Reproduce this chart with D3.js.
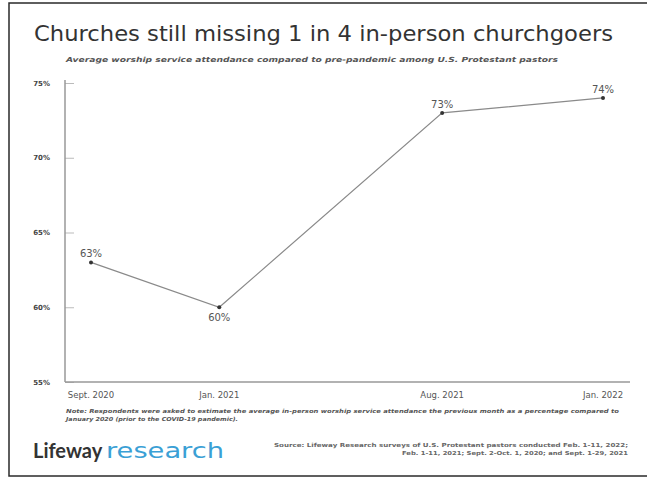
<!DOCTYPE html>
<html>
<head>
<meta charset="utf-8">
<script src="https://cdn.jsdelivr.net/npm/d3@7"></script>
<style>
  html, body { margin: 0; padding: 0; background: #fff; }
  svg { display: block; }
</style>
</head>
<body>
<div id="chart"></div>
<script>
// Survey waves and average attendance (% of pre-pandemic)
const waves = ["2020-09-01", "2021-01-01", "2021-08-01", "2022-01-01"];
const waveLabels = ["Sept. 2020", "Jan. 2021", "Aug. 2021", "Jan. 2022"];
const attendance = [63, 60, 73, 74];
const labelSide = ["above", "below", "above", "above"];
const yTicks = [55, 60, 65, 70, 75];

const W = 647, H = 480;
const svg = d3.select("#chart").append("svg")
  .attr("width", W).attr("height", H);

// outer frame
svg.append("rect")
  .attr("x", 9).attr("y", 3).attr("width", W).attr("height", 473)
  .attr("fill", "#fff").attr("stroke", "#2a2a2a").attr("stroke-width", 1.5);

const parse = d3.utcParse("%Y-%m-%d");
const dates = waves.map(parse);

const x = d3.scaleUtc()
  .domain([dates[0], dates[dates.length - 1]])
  .range([91, 603]);
const y = d3.scaleLinear().domain([55, 75]).range([382, 83]);

const font = "'DejaVu Sans', Lato, sans-serif";
const fit = "spacingAndGlyphs";

// title & subtitle
svg.append("text")
  .attr("x", 34).attr("y", 41)
  .attr("font-family", font).attr("font-size", 22)
  .attr("textLength", 579).attr("lengthAdjust", fit)
  .attr("fill", "#333")
  .text("Churches still missing 1 in 4 in-person churchgoers");

svg.append("text")
  .attr("x", 66).attr("y", 62)
  .attr("font-family", font).attr("font-size", 7)
  .attr("textLength", 492).attr("lengthAdjust", fit)
  .attr("font-style", "italic").attr("font-weight", 600)
  .attr("fill", "#555")
  .text("Average worship service attendance compared to pre-pandemic among U.S. Protestant pastors");

// y axis ticks
const yAxis = svg.append("g").attr("transform", "translate(65,0)")
  .call(d3.axisRight(y).tickValues(yTicks).tickSize(9).tickFormat(() => ""));
yAxis.select(".domain").remove();
yAxis.selectAll(".tick line").attr("stroke", "#bbb").attr("stroke-width", 1);

svg.selectAll(".ylab").data(yTicks).join("text")
  .attr("class", "ylab")
  .attr("x", 50).attr("y", d => y(d) + 2.5)
  .attr("text-anchor", "end")
  .attr("font-family", font).attr("font-size", 7).attr("font-weight", 700)
  .attr("fill", "#444")
  .text(d => d + "%");

// axis lines
svg.append("line").attr("x1", 65).attr("x2", 65).attr("y1", 80).attr("y2", 382)
  .attr("stroke", "#999").attr("stroke-width", 1.5);
svg.append("line").attr("x1", 65).attr("x2", 630).attr("y1", 382).attr("y2", 382)
  .attr("stroke", "#999").attr("stroke-width", 1.5);

// x labels
svg.selectAll(".xlab").data(dates).join("text")
  .attr("class", "xlab")
  .attr("x", d => x(d)).attr("y", 398)
  .attr("text-anchor", "middle")
  .attr("font-family", font).attr("font-size", 8.5)
  .attr("fill", "#555")
  .text((d, i) => waveLabels[i]);

// line & points
const pts = dates.map((d, i) => ({ d, v: attendance[i], side: labelSide[i] }));
svg.append("path").datum(pts)
  .attr("fill", "none").attr("stroke", "#8a8a8a").attr("stroke-width", 1.2)
  .attr("d", d3.line().x(p => x(p.d)).y(p => y(p.v)));

svg.selectAll(".pt").data(pts).join("circle")
  .attr("class", "pt")
  .attr("cx", p => x(p.d)).attr("cy", p => y(p.v)).attr("r", 2)
  .attr("fill", "#333");

svg.selectAll(".vlab").data(pts).join("text")
  .attr("class", "vlab")
  .attr("x", p => x(p.d))
  .attr("y", p => p.side === "above" ? y(p.v) - 5 : y(p.v) + 14)
  .attr("text-anchor", "middle")
  .attr("font-family", font).attr("font-size", 10)
  .attr("fill", "#555")
  .text(p => p.v + "%");

// note
const note = svg.append("text")
  .attr("font-family", font).attr("font-size", 5.5)
  .attr("font-style", "italic").attr("font-weight", 600)
  .attr("fill", "#555");
note.append("tspan").attr("x", 66).attr("y", 413)
  .attr("textLength", 553).attr("lengthAdjust", fit)
  .text("Note: Respondents were asked to estimate the average in-person worship service attendance the previous month as a percentage compared to");
note.append("tspan").attr("x", 66).attr("y", 421)
  .attr("textLength", 172).attr("lengthAdjust", fit)
  .text("January 2020 (prior to the COVID-19 pandemic).");

// logo
svg.append("text").attr("x", 33).attr("y", 458)
  .attr("font-family", "Lato, sans-serif").attr("font-size", 20).attr("font-weight", 700)
  .attr("fill", "#333").text("Lifeway");
svg.append("text").attr("x", 106).attr("y", 458)
  .attr("font-family", font).attr("font-size", 21)
  .attr("textLength", 118).attr("lengthAdjust", fit)
  .attr("fill", "#3aa0d5").text("research");

// source
const src = svg.append("text")
  .attr("text-anchor", "end")
  .attr("font-family", font).attr("font-size", 5.5).attr("font-weight", 600)
  .attr("fill", "#666");
src.append("tspan").attr("x", 628).attr("y", 447)
  .attr("textLength", 354).attr("lengthAdjust", fit)
  .text("Source: Lifeway Research surveys of U.S. Protestant pastors conducted Feb. 1-11, 2022;");
src.append("tspan").attr("x", 628).attr("y", 455)
  .attr("textLength", 226).attr("lengthAdjust", fit)
  .text("Feb. 1-11, 2021; Sept. 2-Oct. 1, 2020; and Sept. 1-29, 2021");
</script>
</body>
</html>
